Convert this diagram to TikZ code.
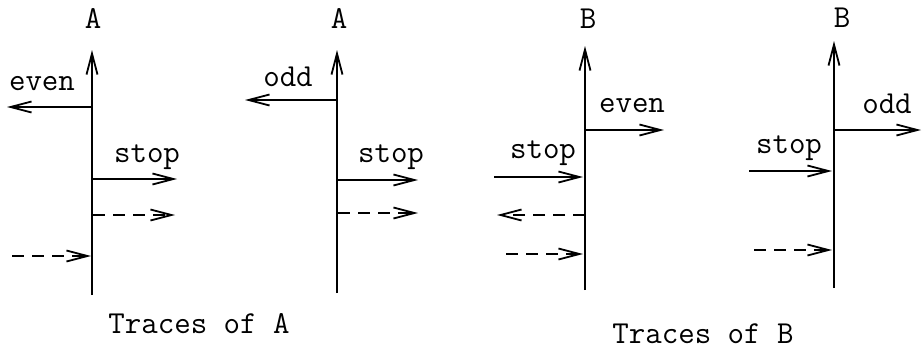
\documentclass[tikz,border=0pt]{standalone}
\usetikzlibrary{arrows.meta}
\tikzset{
  axisline/.style={line width=2pt,-{Straight Barb[length=21pt,width=11pt,line width=1.8pt]}},
  msgline/.style={line width=1.3pt,-{Straight Barb[length=21pt,width=11pt,line width=1.8pt]}},
  msgdash/.style={msgline,dash pattern=on 12pt off 8pt},
  lbl/.style={inner sep=0pt,anchor=base,font=\fontsize{32}{34}\selectfont\ttfamily},
}
\begin{document}
\begin{tikzpicture}[x=1pt,y=-1pt]
\useasboundingbox (0,0) rectangle (922,349);
% ---- trace 1 (A)
\coordinate (p1b) at (92,295); \coordinate (p1t) at (92,50);
\draw[axisline] (p1b) -- (p1t);
\node[lbl] (l1) at (93,28) {A};
\coordinate (p1e) at (92,107); \coordinate (q1e) at (7,107);
\draw[msgline] (p1e) -- (q1e);
\node[lbl] (l1e) at (42,90) {even};
\coordinate (p1s) at (93,179); \coordinate (q1s) at (177,179);
\draw[msgline] (p1s) -- (q1s);
\node[lbl] (l1s) at (147,162) {stop};
\coordinate (p1d) at (93,215); \coordinate (q1d) at (175,215);
\draw[msgdash] (p1d) -- (q1d);
\coordinate (q1i) at (12,256); \coordinate (p1i) at (91,256);
\draw[msgdash] (q1i) -- (p1i);
% ---- trace 2 (A)
\coordinate (p2b) at (337,293); \coordinate (p2t) at (337,50);
\draw[axisline] (p2b) -- (p2t);
\node[lbl] (l2) at (339,28) {A};
\coordinate (p2o) at (336,100); \coordinate (q2o) at (245,100);
\draw[msgline] (p2o) -- (q2o);
\node[lbl] (l2o) at (288,86) {odd};
\coordinate (p2s) at (338,180); \coordinate (q2s) at (418,180);
\draw[msgline] (p2s) -- (q2s);
\node[lbl] (l2s) at (391,162) {stop};
\coordinate (p2d) at (338,213); \coordinate (q2d) at (418,213);
\draw[msgdash] (p2d) -- (q2d);
% ---- trace 3 (B)
\coordinate (p3b) at (585,290); \coordinate (p3t) at (585,46);
\draw[axisline] (p3b) -- (p3t);
\node[lbl] (l3) at (588,28) {B};
\coordinate (p3e) at (586,130); \coordinate (q3e) at (664,130);
\draw[msgline] (p3e) -- (q3e);
\node[lbl] (l3e) at (632,112) {even};
\coordinate (q3s) at (494,177); \coordinate (p3s) at (583,177);
\draw[msgline] (q3s) -- (p3s);
\node[lbl] (l3s) at (543,158) {stop};
\coordinate (p3d) at (585,215); \coordinate (q3d) at (497,215);
\draw[msgdash] (p3d) -- (q3d);
\coordinate (q3i) at (506,254); \coordinate (p3i) at (583,254);
\draw[msgdash] (q3i) -- (p3i);
% ---- trace 4 (B)
\coordinate (p4b) at (834,288); \coordinate (p4t) at (834,41);
\draw[axisline] (p4b) -- (p4t);
\node[lbl] (l4) at (842,27) {B};
\coordinate (p4o) at (835,130); \coordinate (q4o) at (921,130);
\draw[msgline] (p4o) -- (q4o);
\node[lbl] (l4o) at (887,113) {odd};
\coordinate (q4s) at (749,171); \coordinate (p4s) at (832,171);
\draw[msgline] (q4s) -- (p4s);
\node[lbl] (l4s) at (789,153) {stop};
\coordinate (q4i) at (754,250); \coordinate (p4i) at (832,250);
\draw[msgdash] (q4i) -- (p4i);
% ---- captions
\node[lbl] (capA) at (199,333) {Traces of A};
\node[lbl] (capB) at (703,343) {Traces of B};
\end{tikzpicture}
\end{document}
